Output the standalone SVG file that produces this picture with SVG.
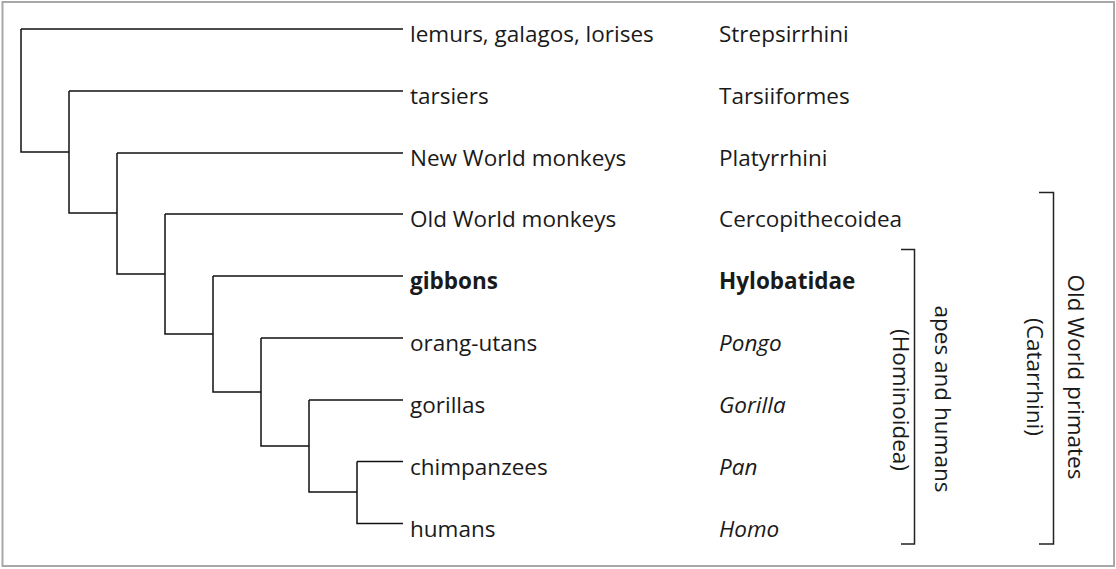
<svg xmlns="http://www.w3.org/2000/svg" width="1116" height="569" viewBox="0 0 1116 569">
<style>
.t{font-family:"Open Sans","Noto Sans","Liberation Sans",sans-serif;font-size:22.5px;fill:#1a1a1a}
.b{font-weight:bold}
.i{font-style:italic}
.ln{fill:none;stroke:#111;stroke-width:1.5}
.br{fill:none;stroke:#222;stroke-width:1.5}
</style>
<rect x="2.5" y="2" width="1111.5" height="564" fill="#fff" stroke="#a8a8a8" stroke-width="2"/>
<g id="connectors" class="ln">
<path d="M21,29 H403 M21,29 V152 H69"/>
<path d="M69,91 H403 M69,91 V213 H117"/>
<path d="M117,153 H403 M117,153 V274 H165"/>
<path d="M165,214 H403 M165,214 V334 H213"/>
<path d="M213,276 H403 M213,276 V392 H261"/>
<path d="M261,338 H403 M261,338 V446 H309"/>
<path d="M309,400 H403 M309,400 V492 H357"/>
<path d="M357,461.5 H403 M357,461.5 V523.5 H403"/>
</g>
<g id="lemurs"><text class="t" x="410" y="42">lemurs, galagos, lorises</text><text class="t" x="719" y="42">Strepsirrhini</text></g>
<g id="tarsiers"><text class="t" x="410" y="104">tarsiers</text><text class="t" x="719" y="104">Tarsiiformes</text></g>
<g id="newworld"><text class="t" x="410" y="166">New World monkeys</text><text class="t" x="719" y="166">Platyrrhini</text></g>
<g id="oldworld"><text class="t" x="410" y="227">Old World monkeys</text><text class="t" x="719" y="227">Cercopithecoidea</text></g>
<g id="gibbons"><text class="t b" x="410" y="289">gibbons</text><text class="t b" x="719" y="289">Hylobatidae</text></g>
<g id="orangutans"><text class="t" x="410" y="351">orang-utans</text><text class="t i" x="719" y="351">Pongo</text></g>
<g id="gorillas"><text class="t" x="410" y="413">gorillas</text><text class="t i" x="719" y="413">Gorilla</text></g>
<g id="chimpanzees"><text class="t" x="410" y="474.5">chimpanzees</text><text class="t i" x="719" y="474.5">Pan</text></g>
<g id="humans"><text class="t" x="410" y="536.5">humans</text><text class="t i" x="719" y="536.5">Homo</text></g>
<g id="hominoidea">
<path class="br" d="M901,249.5 H914.5 V544 H901"/>
<text class="t" text-anchor="middle" transform="translate(935,399) rotate(90)">apes and humans</text>
<text class="t" text-anchor="middle" transform="translate(893,400) rotate(90)">(Hominoidea)</text>
</g>
<g id="catarrhini">
<path class="br" d="M1039,192.5 H1053.5 V544 H1039"/>
<text class="t" text-anchor="middle" transform="translate(1068,377) rotate(90)">Old World primates</text>
<text class="t" text-anchor="middle" transform="translate(1027,377) rotate(90)">(Catarrhini)</text>
</g>
</svg>
